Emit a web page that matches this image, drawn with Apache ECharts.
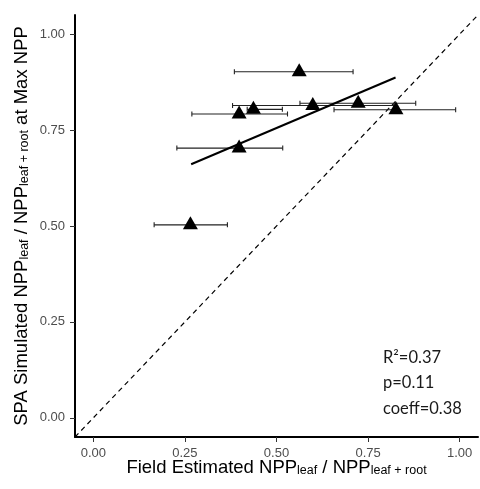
<!DOCTYPE html>
<html>
<head>
<meta charset="utf-8">
<script src="https://cdn.jsdelivr.net/npm/echarts@6/dist/echarts.min.js"></script>
<style>
html,body{margin:0;padding:0;background:#fff;}
#chart{width:480px;height:489px;}
</style>
</head>
<body>
<div id="chart"></div>
<script>
// Data
var fieldX   = [0.562, 0.437, 0.398, 0.599, 0.723, 0.826, 0.398, 0.265];
var simY     = [0.902, 0.804, 0.792, 0.814, 0.820, 0.803, 0.703, 0.503];
var xErrLow  = [0.385, 0.420, 0.269, 0.380, 0.564, 0.657, 0.228, 0.166];
var xErrHigh = [0.709, 0.516, 0.530, 0.820, 0.880, 0.989, 0.517, 0.366];
var fitX = [0.267, 0.825];
var fitY = [0.661, 0.887];
var oneToOneX = [-0.05, 1.05];
var oneToOneY = [-0.05, 1.05];
var tickValues = [0, 0.25, 0.5, 0.75, 1];
var statsLines = ['R\u00B2=0.37', 'p=0.11', 'coeff=0.38'];

var pts = fieldX.map(function (x, i) { return [x, simY[i]]; });
var errs = fieldX.map(function (x, i) { return [simY[i], xErrLow[i], xErrHigh[i]]; });
var fitData = fitX.map(function (x, i) { return [x, fitY[i]]; });
var diagData = oneToOneX.map(function (x, i) { return [x, oneToOneY[i]]; });

var chart = echarts.init(document.getElementById('chart'), null, {renderer: 'canvas'});

var richName = {
  m: {fontSize: 18.5, lineHeight: 19, verticalAlign: 'top', color: '#000', fontFamily: 'Liberation Sans'},
  s: {fontSize: 12.5, lineHeight: 12.5, padding: [9.5, 0, 0, 0], verticalAlign: 'bottom', color: '#000', fontFamily: 'Liberation Sans'}
};

function axisCommon() {
  return {
    type: 'value',
    min: -0.05,
    max: 1.05,
    splitLine: {show: false},
    axisLine: {show: true, onZero: false, lineStyle: {color: '#000', width: 2}},
    axisTick: {show: true, length: 5, inside: false, customValues: tickValues, lineStyle: {color: '#333', width: 1}},
    axisLabel: {
      customValues: tickValues,
      color: '#4D4D4D', fontSize: 13, fontFamily: 'Liberation Sans',
      formatter: function (v) { return Number(v).toFixed(2); }
    },
    nameMoveOverlap: false
  };
}

var xAxis = axisCommon();
xAxis.axisLabel.margin = 10;
xAxis.name = '{m|Field Estimated NPP}{s|leaf}{m| / NPP}{s|leaf + root}';
xAxis.nameLocation = 'middle';
xAxis.nameGap = 21;
xAxis.nameTextStyle = {rich: richName, verticalAlign: 'top'};

var yAxis = axisCommon();
yAxis.axisLabel.margin = 10;
yAxis.name = '{m|SPA Simulated NPP}{s|leaf}{m| / NPP}{s|leaf + root}{m| at Max NPP}';
yAxis.nameLocation = 'middle';
yAxis.nameRotate = 90;
yAxis.nameGap = 44;
yAxis.nameTextStyle = {rich: richName};

var option = {
  animation: false,
  backgroundColor: '#fff',
  grid: {left: 75, top: 15, width: 403, height: 422, containLabel: false, outerBoundsMode: 'none'},
  xAxis: xAxis,
  yAxis: yAxis,
  graphic: statsLines.map(function (t, i) {
    return {
      type: 'text', left: 383, top: 349 + i * 25.5,
      style: {text: t, fontSize: 16.5, fontFamily: 'Lato', fill: '#1a1a1a'}
    };
  }),
  series: [
    {
      type: 'line', data: diagData, symbol: 'none', silent: true, z: 1,
      lineStyle: {color: '#000', width: 1.2, type: [5, 4]}
    },
    {
      type: 'custom', data: errs, z: 2, silent: true,
      renderItem: function (params, api) {
        var y = api.value(0);
        var a = api.coord([api.value(1), y]);
        var b = api.coord([api.value(2), y]);
        var cap = 2.5;
        var st = {stroke: '#222', lineWidth: 1.1};
        return {
          type: 'group',
          children: [
            {type: 'line', shape: {x1: a[0], y1: a[1], x2: b[0], y2: b[1]}, style: st},
            {type: 'line', shape: {x1: a[0], y1: a[1] - cap, x2: a[0], y2: a[1] + cap}, style: st},
            {type: 'line', shape: {x1: b[0], y1: b[1] - cap, x2: b[0], y2: b[1] + cap}, style: st}
          ]
        };
      }
    },
    {
      type: 'scatter', data: pts, symbol: 'triangle', symbolSize: [15, 13], symbolOffset: [0, -2], z: 3,
      itemStyle: {color: '#000', opacity: 1}
    },
    {
      type: 'line', data: fitData, symbol: 'none', silent: true, z: 4,
      lineStyle: {color: '#000', width: 2}
    }
  ]
};
chart.setOption(option);
</script>
</body>
</html>
